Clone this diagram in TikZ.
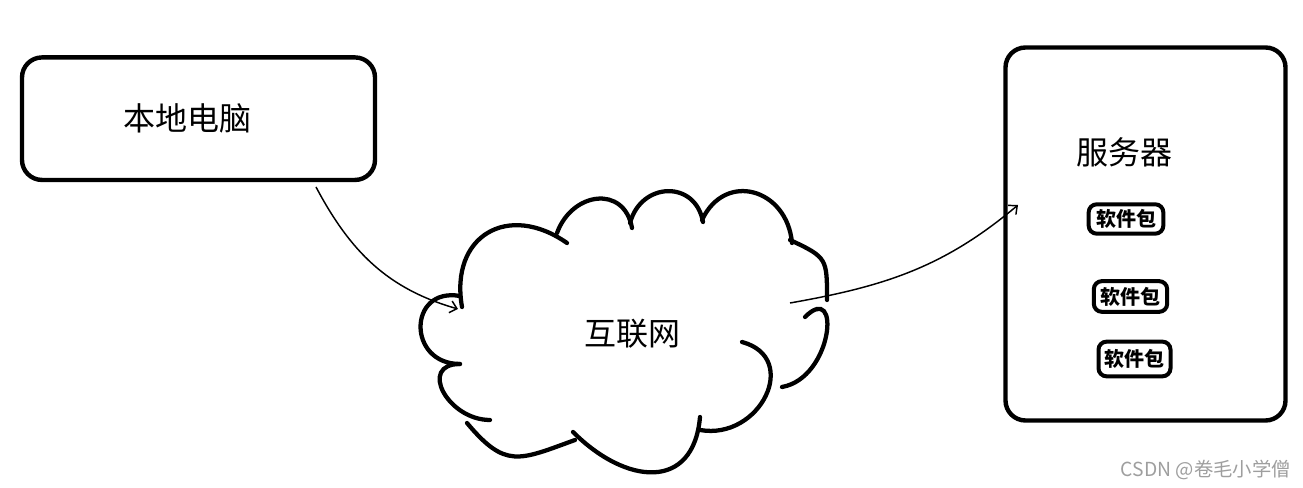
\documentclass[tikz,border=0pt]{standalone}
\usepackage{fontspec}
\setmainfont{Noto Sans CJK SC}
\usetikzlibrary{arrows.meta}
\begin{document}
\begin{tikzpicture}[x=0.75pt,y=0.75pt,
  bigbox/.style={draw, line width=3.3pt, rounded corners=15pt, inner sep=0pt},
  pkg/.style={draw, line width=3pt, rounded corners=6pt, inner sep=0pt,
    font=\bfseries\fontsize{15}{15}\selectfont},
  bigtext/.style={font=\fontsize{24}{24}\selectfont, inner sep=0pt},
  cloudline/.style={line width=3.2pt, line cap=round},
  conn/.style={line width=1.1pt, -{Straight Barb[length=5pt,width=9pt]}},
  wmark/.style={font=\fontsize{14.5}{14.5}\selectfont, text=black!38, inner sep=0pt}]
\useasboundingbox (0,0) rectangle (1303,488);

% boxes
\node[bigbox, minimum width=264.75pt, minimum height=91.9pt] (local) at (198.5,488-118.7) {};
\node[bigtext] (localtxt) at (187.5,488-118.5) {本地电脑};
\node[bigbox, minimum width=210pt, minimum height=279.75pt] (server) at (1145.5,488-234) {};
\node[bigtext] (servertxt) at (1124.5,488-152.5) {服务器};
\node[pkg, minimum width=56pt, minimum height=22pt] (p1) at (1126,488-219) {软件包};
\node[pkg, minimum width=55pt, minimum height=23pt] (p2) at (1130.5,488-296.5) {软件包};
\node[pkg, minimum width=54pt, minimum height=26pt] (p3) at (1134.5,488-359) {软件包};

% cloud
\draw[cloudline] (462,488-307) to[out=100,in=145,looseness=1.5] (567,488-243);
\draw[cloudline] (557,488-233) to[out=70,in=100,looseness=1.5] (632,488-228);
\draw[cloudline] (630,488-223) to[out=75,in=100,looseness=1.5] (703,488-222);
\draw[cloudline] (702,488-220) to[out=65,in=95,looseness=1.5] (792,488-243);
\draw[cloudline] (790,488-240) to[out=-25,in=90,looseness=1.5] (827,488-300);
\draw[cloudline] (805,488-317) to[out=45,in=10,looseness=1.8] (782,488-387);
\draw[cloudline] (742,488-342) to[out=-15,in=-10,looseness=1.6] (700,488-430);
\draw[cloudline] (700,488-417) to[out=-95,in=-45,looseness=1.5] (573,488-432);
\draw[cloudline] (575,488-440) to[out=200,in=-50,looseness=1.4] (467,488-423);
\draw[cloudline] (490,488-420) to[out=180,in=180,looseness=1.7] (460,488-364);
\draw[cloudline] (460,488-364) to[out=180,in=170,looseness=2.0] (460,488-296);
\node[bigtext] (net) at (632,488-334) {互联网};

% connectors
\coordinate (a1s) at (316,488-187);
\coordinate (a1e) at (458,488-309);
\coordinate (a2s) at (790,488-303);
\coordinate (a2e) at (1018,488-205);
\draw[conn] (a1s) to[out=-62,in=164] (a1e);
\draw[conn] (a2s) to[out=10,in=220] (a2e);

% watermark
\node[wmark, anchor=east] (wm) at (1291,488-470) {CSDN @卷毛小学僧};
\end{tikzpicture}
\end{document}
